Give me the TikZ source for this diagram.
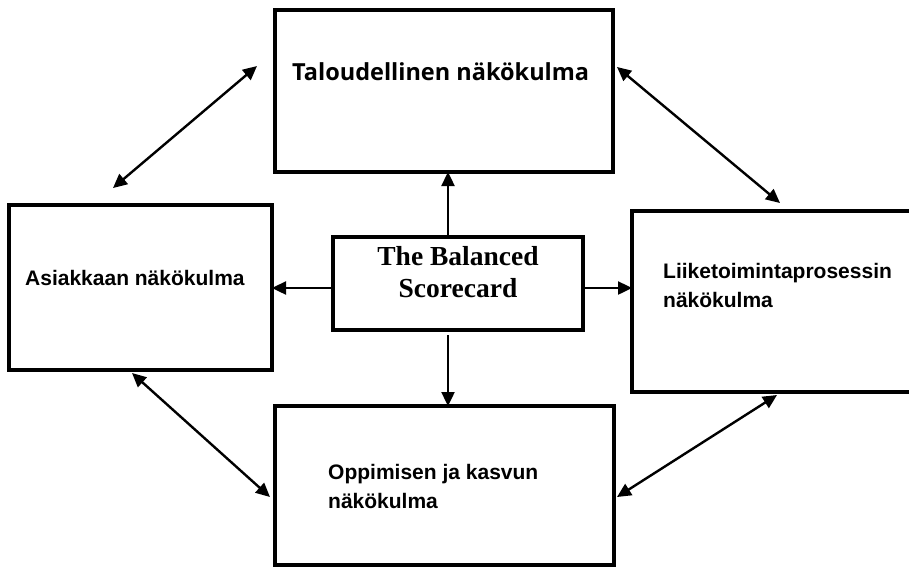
\documentclass[tikz,border=0pt]{standalone}
\usepackage{fontspec}
\setmainfont{Liberation Sans}
\newfontfamily\opensans{Open Sans}
\newfontfamily\timesf{Liberation Serif}
\usetikzlibrary{arrows.meta}
\begin{document}
\begin{tikzpicture}[x=1pt,y=-1pt,
  box/.style={draw, line width=3.8pt, rectangle, inner sep=0pt, outer sep=0pt},
  link/.style={line width=2.4pt, -{Triangle[length=14pt,width=13pt]}},
  dlink/.style={line width=2.4pt, {Triangle[length=14pt,width=13pt]}-{Triangle[length=14pt,width=13pt]}},
  lbl/.style={inner sep=0pt, font=\bfseries\fontsize{21}{29}\selectfont, align=left}]
\fill[white] (0,0) rectangle (909,568);
\useasboundingbox (0,0) rectangle (909,568);
% boxes
\node[box, minimum width=338pt, minimum height=162pt] (T) at (444,91) {};
\node[box, minimum width=263pt, minimum height=165pt] (A) at (140.5,287.5) {};
\node[box, minimum width=250pt, minimum height=93pt] (C) at (458,283.5) {};
\node[box, minimum width=283pt, minimum height=181pt] (R) at (773.5,301.5) {};
\node[box, minimum width=339pt, minimum height=159pt] (O) at (444.5,485.5) {};
% texts
\node[inner sep=0pt, anchor=base west, font=\opensans\bfseries\fontsize{23.5}{28}\selectfont] (Tt) at (292,80) {Taloudellinen näkökulma};
\node[lbl, anchor=base west] (At) at (25,285) {Asiakkaan näkökulma};
\node[inner sep=0pt, anchor=north, align=center, font=\timesf\bfseries\fontsize{27.5}{32}\selectfont] (Ct) at (458,246.5) {The Balanced\\Scorecard};
\node[lbl, anchor=north west] (Rt) at (663,262.7) {Liiketoimintaprosessin\\näkökulma};
\node[lbl, anchor=north west] (Ot) at (328,463.7) {Oppimisen ja kasvun\\näkökulma};
% straight arrows from the centre
\draw[link] ([xshift=-10pt]C.north) -- ([xshift=-10pt]C.north |- T.south);
\draw[link] ([xshift=-10pt,yshift=-5pt]C.south) -- ([xshift=-10pt]C.south |- O.north);
\draw[link] ([yshift=-4.5pt]C.west) -- ([yshift=-4.5pt]C.west -| A.east);
\draw[link] ([yshift=-4.5pt]C.east) -- ([yshift=-4.5pt]C.east -| R.west);
% diagonal double arrows
\coordinate (tl1) at (113,188);
\coordinate (tl2) at (257,66);
\coordinate (tr1) at (617,67);
\coordinate (tr2) at (780,203);
\coordinate (bl1) at (132,373);
\coordinate (bl2) at (270,497);
\coordinate (br1) at (777,395);
\coordinate (br2) at (617,497);
\draw[dlink] (tl1) -- (tl2);
\draw[dlink] (tr1) -- (tr2);
\draw[dlink] (bl1) -- (bl2);
\draw[dlink] (br1) -- (br2);
\end{tikzpicture}
\end{document}
